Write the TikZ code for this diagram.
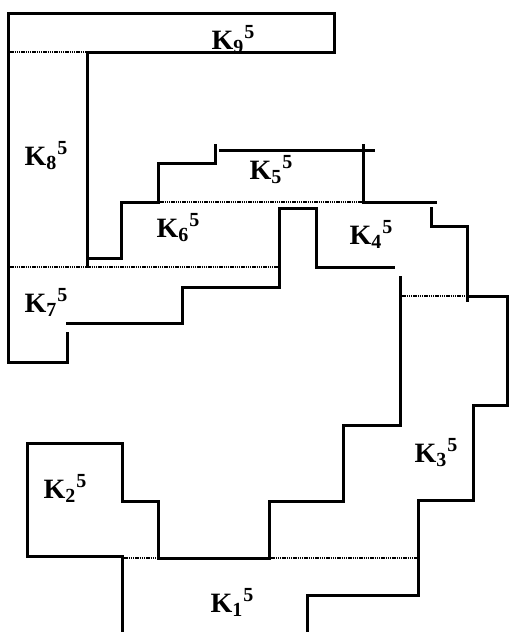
\documentclass[tikz,border=0pt]{standalone}
\usepackage{fontspec}
\setmainfont{Liberation Serif}
\usepackage{tikz}
\usetikzlibrary{positioning}

\newcommand{\klab}[1]{K\raisebox{-4pt}{\fontsize{20}{20}\selectfont #1}\kern1pt\raisebox{11pt}{\fontsize{20}{20}\selectfont 5}}

\begin{document}
\begin{tikzpicture}[x=1pt, y=-1pt,
    wall/.style={line width=3pt, line join=miter, line cap=rect},
    seam/.style={line width=2pt, dash pattern=on 1.4pt off 0.8pt},
    lbl/.style={inner sep=0pt, font=\fontsize{28}{28}\selectfont\bfseries}]
    \useasboundingbox (0,0) rectangle (509,632);
    % outer frame, K9 / K8 / K7
    \draw[wall] (87,52) -- (334,52) -- (334,13) -- (8,13) -- (8,362) -- (67,362) -- (67,333);
    \draw[wall] (87,266) -- (87,52);
    \draw[wall] (87,258) -- (121,258) -- (121,202) -- (158,202) -- (158,163) -- (215,163) -- (215,145);
    \draw[wall] (220,150) -- (373,150);
    \draw[wall] (363,145) -- (363,202) -- (435,202);
    % K4 and K3
    \draw[wall] (431,208) -- (431,226) -- (467,226) -- (467,300);
    \draw[wall] (467,296) -- (507,296) -- (507,405) -- (473,405) -- (473,500) -- (418,500) -- (418,595) -- (307,595) -- (307,632);
    \draw[wall] (279,287) -- (279,208) -- (316,208) -- (316,267) -- (393,267);
    \draw[wall] (279,287) -- (182,287) -- (182,323) -- (67,323);
    \draw[wall] (400,277) -- (400,425) -- (343,425) -- (343,501) -- (269,501) -- (269,558) -- (158,558) -- (158,501) -- (122,501) -- (122,443) -- (27,443) -- (27,556) -- (122,556);
    \draw[wall] (122,556) -- (122,632);
    % boundaries between the parts
    \draw[seam] (8,52) -- (87,52);
    \draw[seam] (158,202) -- (363,202);
    \draw[seam] (8,267) -- (279,267);
    \draw[seam] (400,296) -- (467,296);
    \draw[seam] (122,558) -- (158,558);
    \draw[seam] (269,558) -- (418,558);
    % labels
    \node[lbl] (k9) at (233,40) {\klab{9}};
    \node[lbl] (k8) at (46,156) {\klab{8}};
    \node[lbl] (k5) at (271,170) {\klab{5}};
    \node[lbl] (k6) at (178,228) {\klab{6}};
    \node[lbl] (k4) at (371,234) {\klab{4}};
    \node[lbl] (k7) at (46,302) {\klab{7}};
    \node[lbl] (k3) at (436,453) {\klab{3}};
    \node[lbl] (k2) at (65,488) {\klab{2}};
    \node[lbl] (k1) at (232,602) {\klab{1}};
\end{tikzpicture}
\end{document}
